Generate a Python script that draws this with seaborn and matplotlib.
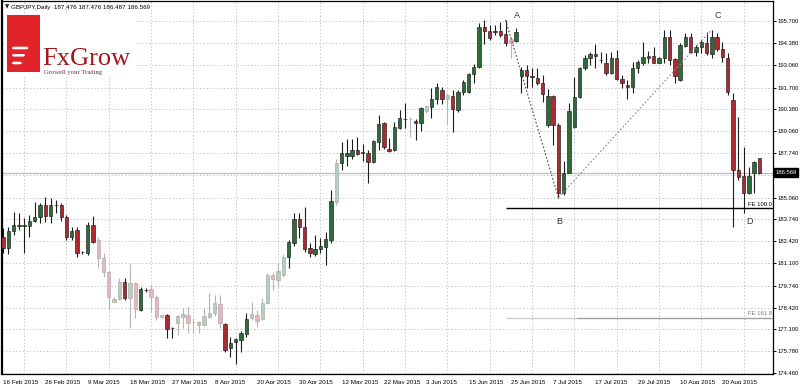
import numpy as np
import matplotlib
matplotlib.use("Agg")
import matplotlib.pyplot as plt
import seaborn as sns
from matplotlib.patches import Rectangle, FancyBboxPatch
from matplotlib.transforms import blended_transform_factory

# ---------------- data (GBPJPY daily) ----------------
opens = [182.66, 182.00, 183.06, 183.35, 183.36, 183.35, 183.67, 183.87, 184.61, 183.95,
         184.59, 184.61, 183.91, 182.70, 183.10, 181.76, 181.70, 183.41, 182.50, 181.40,
         180.59, 178.92, 178.92, 179.98, 178.98, 179.89, 178.28, 179.48, 179.53, 179.04,
         177.83, 177.97, 177.17, 177.51, 177.87, 177.97, 177.55, 177.37, 177.37, 177.87,
         178.08, 178.64, 177.43, 175.96, 176.36, 176.47, 176.83, 177.77, 177.97, 177.71,
         178.68, 180.39, 180.09, 180.39, 181.46, 182.34, 183.75, 183.27, 182.00, 181.66,
         181.94, 182.10, 182.50, 184.81, 187.13, 187.57, 187.57, 187.93, 187.77, 187.77,
         187.19, 188.43, 189.54, 187.98, 187.93, 189.28, 189.79, 189.79, 189.70, 189.58,
         190.30, 190.55, 190.99, 191.55, 190.99, 191.21, 190.35, 191.45, 191.45, 192.52,
         192.92, 195.34, 195.13, 195.07, 195.13, 194.91, 194.61, 194.53, 192.40, 192.76,
         192.36, 192.30, 191.96, 189.44, 191.19, 189.44, 185.35, 186.56, 189.30, 191.11,
         192.86, 193.47, 193.73, 193.36, 193.20, 192.60, 193.47, 192.20, 191.86, 191.72,
         192.86, 193.16, 193.61, 193.61, 193.20, 193.47, 194.77, 193.41, 192.16, 194.21,
         194.73, 193.83, 194.13, 194.37, 193.71, 194.77, 194.01, 193.47, 190.95, 186.73,
         186.36, 185.32, 186.53, 187.476]
highs = [183.21, 183.30, 184.21, 184.11, 183.81, 184.01, 184.81, 184.75, 185.11, 185.02,
         184.91, 184.75, 184.01, 183.30, 183.30, 181.85, 183.61, 183.95, 182.70, 181.70,
         180.69, 179.08, 180.19, 180.19, 181.05, 179.98, 179.68, 179.59, 179.78, 179.18,
         178.03, 178.03, 177.27, 177.97, 178.38, 178.47, 177.77, 177.63, 178.38, 179.32,
         179.18, 179.18, 177.47, 176.63, 176.57, 177.03, 178.08, 178.78, 178.28, 178.98,
         180.49, 180.59, 181.09, 181.66, 182.50, 184.15, 184.15, 184.51, 182.34, 182.80,
         182.60, 183.00, 185.52, 187.37, 188.43, 188.58, 188.58, 188.70, 188.28, 187.93,
         188.54, 190.05, 189.64, 188.64, 189.64, 190.35, 190.75, 189.94, 189.79, 190.55,
         190.65, 191.66, 191.96, 191.72, 191.35, 191.55, 191.55, 192.16, 192.56, 193.12,
         195.58, 195.78, 195.48, 195.48, 195.68, 195.78, 194.77, 195.28, 192.96, 193.06,
         192.86, 192.86, 192.46, 191.60, 191.25, 189.54, 187.29, 190.75, 192.32, 192.96,
         193.66, 193.86, 194.33, 193.86, 193.77, 193.86, 193.97, 192.46, 192.16, 193.26,
         193.36, 194.47, 193.93, 194.17, 193.56, 195.18, 195.18, 193.47, 194.41, 194.98,
         194.98, 194.27, 194.57, 195.07, 195.18, 194.98, 194.47, 193.77, 191.35, 189.94,
         188.13, 186.92, 187.27, 187.476]
lows = [181.70, 181.66, 182.80, 183.10, 181.70, 182.66, 183.61, 183.55, 183.61, 183.55,
        184.15, 183.67, 182.50, 182.50, 181.49, 181.66, 181.60, 182.30, 180.79, 180.29,
        178.28, 178.73, 178.88, 178.88, 177.17, 177.77, 178.23, 179.38, 178.17, 177.67,
        177.77, 176.57, 176.57, 176.77, 177.17, 176.87, 176.87, 176.87, 177.31, 177.77,
        177.91, 177.17, 175.76, 175.42, 175.02, 175.76, 176.67, 177.67, 177.27, 177.67,
        178.64, 179.48, 179.68, 180.29, 180.79, 182.14, 182.60, 181.79, 181.46, 181.53,
        181.70, 180.99, 182.34, 184.61, 186.73, 186.97, 187.37, 187.66, 187.27, 185.96,
        187.13, 187.93, 187.98, 187.84, 187.89, 189.18, 189.24, 188.70, 188.54, 189.08,
        190.15, 189.85, 190.71, 190.69, 189.50, 189.00, 190.24, 191.25, 191.35, 191.99,
        192.86, 194.33, 194.57, 194.87, 194.77, 194.21, 193.47, 194.47, 191.35, 191.66,
        191.72, 191.85, 190.85, 189.34, 188.23, 185.02, 185.22, 186.53, 189.24, 191.05,
        192.76, 193.06, 192.86, 193.16, 192.46, 192.52, 192.16, 191.66, 190.99, 191.39,
        192.60, 193.06, 193.16, 193.16, 193.16, 193.16, 193.06, 191.96, 192.11, 194.17,
        193.77, 193.61, 193.77, 193.66, 193.47, 193.93, 193.26, 191.25, 183.30, 186.12,
        184.11, 185.28, 185.35, 186.487]
closes = [182.00, 183.06, 183.41, 183.38, 183.37, 183.65, 183.87, 184.61, 183.95, 184.61,
          184.60, 183.91, 182.70, 183.06, 181.73, 181.75, 183.41, 182.40, 181.40, 180.59,
          179.08, 178.78, 179.98, 178.98, 179.89, 178.32, 179.53, 179.47, 179.08, 177.83,
          177.97, 177.11, 177.16, 177.91, 178.03, 177.51, 177.54, 177.57, 177.91, 178.11,
          178.68, 177.47, 175.86, 176.30, 176.51, 176.87, 177.73, 178.03, 177.63, 178.68,
          180.39, 180.13, 180.65, 181.46, 182.40, 183.75, 183.27, 181.94, 181.70, 181.94,
          182.14, 182.54, 184.87, 187.17, 187.77, 187.77, 187.93, 187.69, 187.76, 187.19,
          188.48, 189.50, 188.13, 187.89, 189.34, 189.85, 189.80, 189.78, 189.58, 190.45,
          190.59, 191.01, 191.72, 190.99, 191.25, 190.39, 191.45, 192.05, 192.52, 192.96,
          195.37, 195.13, 194.67, 195.06, 194.87, 194.37, 194.41, 195.04, 192.76, 192.40,
          192.35, 191.96, 191.31, 191.19, 189.44, 185.35, 186.56, 190.30, 191.11, 192.86,
          193.47, 193.73, 193.61, 193.35, 192.60, 193.47, 192.20, 191.99, 191.72, 192.86,
          193.26, 193.56, 193.47, 193.20, 193.47, 194.77, 193.36, 192.40, 194.27, 194.73,
          193.86, 194.13, 194.45, 193.77, 194.77, 194.01, 193.53, 191.45, 186.73, 186.32,
          185.32, 186.36, 187.23, 186.569]

date_labels = ["16 Feb 2015", "26 Feb 2015", "9 Mar 2015", "18 Mar 2015", "27 Mar 2015",
               "8 Apr 2015", "20 Apr 2015", "30 Apr 2015", "12 May 2015", "22 May 2015",
               "3 Jun 2015", "15 Jun 2015", "25 Jun 2015", "7 Jul 2015", "17 Jul 2015",
               "29 Jul 2015", "10 Aug 2015", "20 Aug 2015"]
price_ticks = [195.700, 194.380, 193.060, 191.700, 190.380, 189.060, 187.740, 186.400,
               185.060, 183.740, 182.420, 181.100, 179.740, 178.420, 177.100, 175.780, 174.460]

# pattern points A, B, C (bar index, price) and projection levels
pattern_idx = [95, 105, 134]
pattern_price = [195.78, 185.05, 195.20]
point_names = ["A", "B", "C", "D"]
fe_levels = [184.41, 177.77]
fe_names = ["FE 100.0", "FE 161.8"]
bid_price = 186.569
header = "GBPJPY,Daily  187.476 187.476 186.487 186.569"

# ---------------- styling ----------------
sns.set_style("white")
plt.rcParams["font.family"] = ["Liberation Sans", "DejaVu Sans"]

W, H = 800, 384
fig = plt.figure(figsize=(W / 100, H / 100), dpi=100)
fig.patch.set_facecolor("white")
ax = fig.add_axes([2 / W, 1 - 374 / H, 771 / W, 373 / H])
ax.set_facecolor("white")

n = len(opens)
x = np.arange(n)
o = np.array(opens); h = np.array(highs); l = np.array(lows); c = np.array(closes)

FADED = {18, 19, 20, 21, 22, 24, 25, 28, 29, 30, 33, 34, 35, 36, 37, 38, 39, 40, 41,
         47, 48, 49, 50, 51, 52, 53, 63, 77, 80, 84, 96}
bull = c >= o
body_col, wick_col, edge_col = [], [], []
for i in range(n):
    if i in FADED:
        body_col.append("#b7cfba" if bull[i] else "#e9b7bb")
        wick_col.append("#b4b4b4")
        edge_col.append("#a8a8a8")
    else:
        body_col.append("#2d6b39" if bull[i] else "#ad2a30")
        wick_col.append("#1c1c1c")
        edge_col.append("#1c1c1c")

FS = 4.2

# grid
grid_kw = dict(color="#c9c9c9", lw=0.7, ls=(0, (1.5, 2.0)), zorder=1)
for p in price_ticks:
    ax.axhline(p, **grid_kw)
for gx in np.arange(4, n + 2, 8):
    ax.axvline(gx, **grid_kw)

# bid line
ax.axhline(bid_price, color="#bdbdbd", lw=0.9, zorder=2)

# candles
ax.vlines(x, l, h, colors=wick_col, lw=0.8, zorder=3)
ax.bar(x, np.maximum(np.abs(c - o), 0.035), bottom=np.minimum(o, c), width=0.64,
       color=body_col, edgecolor=edge_col, linewidth=0.45, zorder=4)

# pattern dotted lines
sns.lineplot(x=pattern_idx[:2], y=pattern_price[:2], ax=ax, color="#5a4040", lw=0.8,
             linestyle=(0, (1.5, 1.8)), zorder=5, sort=False)
sns.lineplot(x=pattern_idx[1:], y=pattern_price[1:], ax=ax, color="#8a8a8a", lw=0.8,
             linestyle=(0, (1.5, 1.8)), zorder=5, sort=False)

# FE levels
xr = 145.56
ax.hlines(fe_levels[0], 95.1, xr, color="black", lw=1.0, zorder=5)
ax.hlines(fe_levels[1], 95.1, 108.3, color="#d0d0d0", lw=1.0, zorder=5)
ax.hlines(fe_levels[1], 108.3, xr, color="#a0a0a0", lw=1.0, zorder=5)
ax.text(145.3, fe_levels[0] + 0.26, fe_names[0], ha="right", va="center", fontsize=FS,
        color="black", zorder=6)
ax.text(145.3, fe_levels[1] + 0.27, fe_names[1], ha="right", va="center", fontsize=FS,
        color="#777777", zorder=6)

# point labels
lab_pos = [(97.2, 196.02), (105.1, 183.59), (135.2, 196.02), (141.2, 183.59)]
for name, (lx, ly) in zip(point_names, lab_pos):
    ax.text(lx, ly, name, ha="center", va="center", fontsize=6.5, color="#333333", zorder=6)

# axes limits / ticks
ax.set_xlim(-0.19, 145.56)
ax.set_ylim(174.414, 196.925)
ax.set_xticks(np.arange(0, 8 * len(date_labels), 8))
ax.set_xticklabels(date_labels, fontsize=FS + 0.3, ha="left")
ax.tick_params(axis="x", length=3, width=0.7, pad=1.5, colors="black", direction="out")
ax.yaxis.tick_right()
ax.set_yticks(price_ticks)
ax.set_yticklabels([f"{p:.3f}" if abs(p - 186.4) > 0.01 else "" for p in price_ticks],
                   fontsize=FS)
ax.tick_params(axis="y", length=2.5, width=0.7, pad=1.0, colors="black", direction="out")
for s in ax.spines.values():
    s.set_visible(True)
    s.set_color("black")
    s.set_linewidth(0.9)
ax.spines["left"].set_linewidth(1.6)

# current price box
tr = blended_transform_factory(ax.transAxes, ax.transData)
ax.text(1.003, bid_price, f"{bid_price:.3f}", transform=tr, ha="left", va="center",
        fontsize=FS, color="white", zorder=7, clip_on=False,
        bbox=dict(boxstyle="square,pad=0.3", fc="black", ec="black"))

# header
fig.text(5 / W, 1 - 7 / H, "\u25bc", fontsize=4, va="center", ha="left",
         family=["DejaVu Sans"])
fig.text(11 / W, 1 - 7 / H, header, fontsize=FS + 0.3, va="center", ha="left", color="black")

# logo
def fx(px):
    return px / W
def fy(py):
    return 1 - py / H

fig.add_artist(Rectangle((fx(4), fy(77)), fx(132), 63 / H, transform=fig.transFigure,
                         fc="white", ec="none", zorder=8))
fig.add_artist(Rectangle((fx(7), fy(72)), 33 / W, 57 / H, transform=fig.transFigure,
                         fc="#e2232a", ec="none", zorder=9))
for (y0, x1) in [(46.7, 28.3), (54.0, 25.0), (61.7, 21.7)]:
    fig.add_artist(FancyBboxPatch((fx(12), fy(y0 + 2.6)), (x1 - 12) / W, 2.6 / H,
                                  boxstyle="round,pad=0,rounding_size=0.003",
                                  transform=fig.transFigure, fc="white", ec="none",
                                  zorder=10))
fig.text(fx(42), fy(65), "FxGrow", fontsize=19, color="#a3161c", va="baseline",
         ha="left", family=["Liberation Serif", "DejaVu Serif"], zorder=10)
fig.text(fx(44), fy(72.5), "Growell your Trading", fontsize=4.8, color="#6a3434",
         va="center", ha="left", family=["Liberation Serif", "DejaVu Serif"], zorder=10)

fig.savefig("out.png", dpi=100)
